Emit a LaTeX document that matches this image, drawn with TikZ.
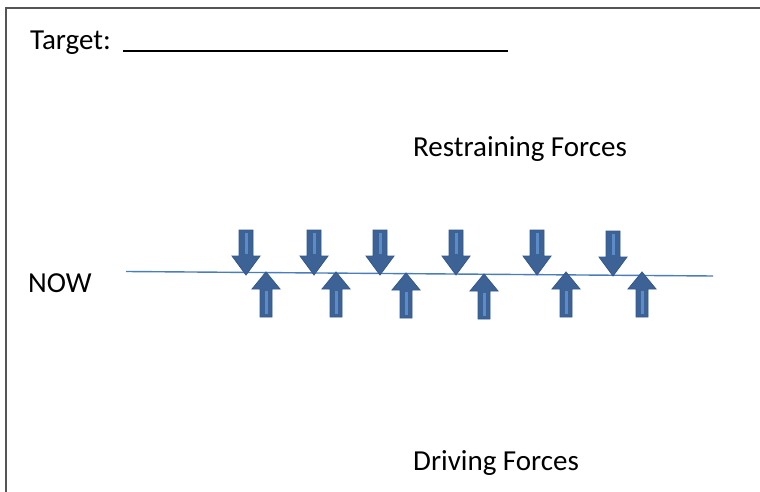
\documentclass[tikz,border=0pt]{standalone}
\usepackage{fontspec}
\setmainfont{Carlito}
\definecolor{framegray}{HTML}{555555}
\definecolor{linkblue}{HTML}{4A7EBB}
\definecolor{arrfill}{HTML}{3D6396}
\definecolor{arredge}{HTML}{34578A}
\definecolor{arrlight}{HTML}{5B8CC8}
\tikzset{
  lbl/.style={anchor=base west,inner sep=0pt,font=\fontsize{29}{34}\selectfont},
  frameline/.style={draw=framegray,line width=2pt},
  nowline/.style={draw=linkblue,line width=1.4pt},
  arrbody/.style={fill=arrfill,draw=arredge,line width=0.8pt,line join=miter},
  downarr/.pic={
    \path[arrbody] (0,0) -- (-14,-19) -- (-7,-19) -- (-7,-45) -- (7,-45) -- (7,-19) -- (14,-19) -- cycle;
    \fill[arrlight] (-1.5,-21) rectangle (1.5,-42);
  },
  uparr/.pic={
    \path[arrbody] (0,0) -- (-14,17) -- (-6,17) -- (-6,45) -- (6,45) -- (6,17) -- (14,17) -- cycle;
    \fill[arrlight] (-1.5,19) rectangle (1.5,42);
  }
}
\begin{document}
\begin{tikzpicture}[x=1pt,y=-1pt]
\useasboundingbox (0,0) rectangle (760,492);
% frame
\draw[frameline] (6,492) -- (6,8) -- (760,8);
% texts
\node[lbl] (target) at (30,50) {Target:};
\coordinate (ulA) at (123,51);
\coordinate (ulB) at (508,51);
\draw[line width=2pt] (ulA) -- (ulB);
\node[lbl] (restrain) at (413,157) {Restraining Forces};
\node[lbl] (now) at (28,292) {NOW};
\node[lbl] (driving) at (413,470) {Driving Forces};
% now line
\coordinate (lineA) at (126,271.5);
\coordinate (lineB) at (713,276);
\draw[nowline] (lineA) -- (lineB);
% restraining arrows (down)
\pic at (246,275) {downarr};
\pic at (314,275) {downarr};
\pic at (380,275) {downarr};
\pic at (456,275) {downarr};
\pic at (537,275) {downarr};
\pic at (613,276) {downarr};
% driving arrows (up)
\pic at (266,272) {uparr};
\pic at (336,272) {uparr};
\pic at (406,273) {uparr};
\pic at (484,274) {uparr};
\pic at (566,272) {uparr};
\pic at (642,272) {uparr};
\end{tikzpicture}
\end{document}
